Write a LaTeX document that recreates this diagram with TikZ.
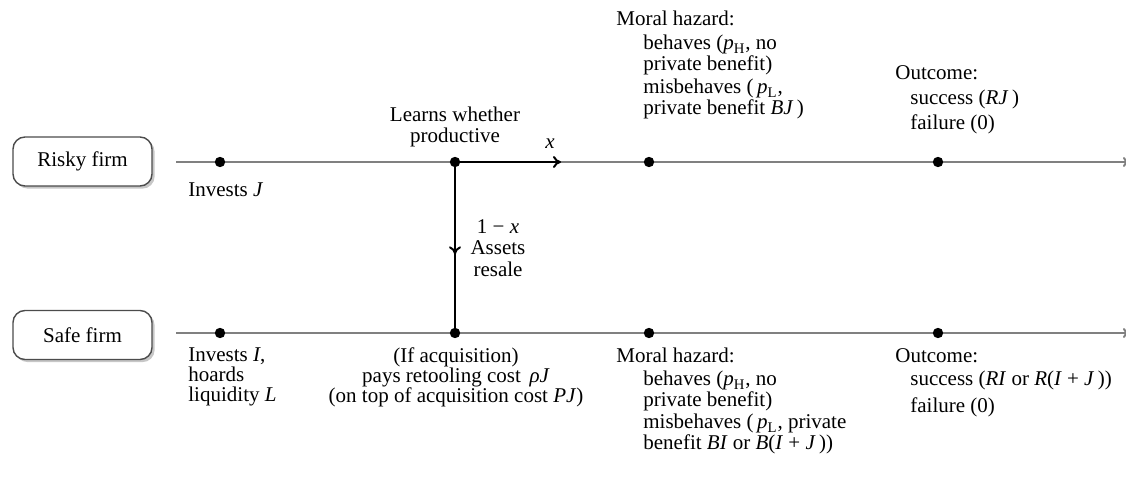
\documentclass[tikz,border=0pt]{standalone}
\usepackage{fontspec}
\setmainfont{Liberation Serif}
\usetikzlibrary{arrows.meta,decorations.markings,shadows}

% fixed line spacing for stacked labels
\newcommand{\labelfont}[1]{\fontsize{10.5}{#1}\selectfont\lineskiplimit=-20pt\relax}

\tikzset{
  firm/.style={draw=black!70, line width=0.7pt, rounded corners=6pt, fill=white,
    minimum width=69.5pt, minimum height=24.5pt,
    drop shadow={shadow xshift=1.3pt, shadow yshift=-1.3pt, fill=black!22, opacity=1}},
  timeline/.style={draw=black!50, line width=1pt},
  event/.style={circle, fill=black, inner sep=0pt, minimum size=5.2pt},
  flow/.style={draw=black, line width=1pt},
  lbl/.style={inner sep=0pt, font=\labelfont{10.2}},
}

\begin{document}
\begin{tikzpicture}[x=0.5pt, y=-0.5pt]
\useasboundingbox (0,0) rectangle (1126,481);

% Firm boxes
\node[firm, lbl] (risky) at (82.5,161.5) {Risky firm};
\node[firm, lbl] (safe) at (82.5,335) {Safe firm};

% Timelines
\coordinate (rstart) at (176,162);
\coordinate (rend) at (1129,162);
\coordinate (sstart) at (176,333);
\coordinate (send) at (1129,333);
\draw[timeline, -{To[length=3pt,width=5pt]}] (rstart) -- (rend);
\draw[timeline, -{To[length=3pt,width=5pt]}] (sstart) -- (send);

% Dates on the risky firm timeline
\node[event] (r1) at (220,162) {};
\node[event] (r2) at (455,162) {};
\node[event] (r3) at (649,162) {};
\node[event] (r4) at (938,162) {};

% Dates on the safe firm timeline
\node[event] (s1) at (220,333) {};
\node[event] (s2) at (455,333) {};
\node[event] (s3) at (649,333) {};
\node[event] (s4) at (938,333) {};

% Continuation (x) and resale (1-x)
\coordinate (xend) at (561,162);
\draw[flow, -{To[length=4pt,width=6pt]}] (r2.center) -- (xend);
\node[lbl, anchor=base] (xlbl) at (550,149) {\textit{x}};
\draw[flow, decoration={markings, mark=at position 0.54 with {\arrow{To[length=4pt,width=6pt]}}},
  postaction={decorate}] (r2.center) -- (s2.center);
\node[lbl, align=center, anchor=north, font=\labelfont{10.7}] (resale) at (498,219) {1 − \textit{x}\\Assets\\resale};

% Risky firm labels
\node[lbl, anchor=base west] (invJ) at (188,197) {Invests \textit{J}};
\node[lbl, align=center, anchor=north] (learn) at (455,107) {Learns whether\\productive};
\node[lbl, anchor=base west] (mh1) at (616,26) {Moral hazard:};
\node[lbl, align=left, anchor=north west] (mh1a) at (643,35) {behaves (\textit{p}\textsubscript{H}, no\\private benefit)};
\node[lbl, align=left, anchor=north west] (mh1b) at (643,79) {misbehaves (\,\textit{p}\textsubscript{L},\\private benefit \textit{BJ}\,)};
\node[lbl, anchor=base west] (oc1) at (895,80) {Outcome:};
\node[lbl, anchor=base west] (oc1a) at (910,105) {success (\textit{RJ}\,)};
\node[lbl, anchor=base west] (oc1b) at (910,130) {failure (0)};

% Safe firm labels
\node[lbl, align=left, anchor=north west] (invI) at (188,347) {Invests \textit{I},\\hoards\\liquidity \textit{L}};
\node[lbl, align=center, anchor=north] (acq) at (456,347) {(If acquisition)\\pays retooling cost \,\textit{ρJ}\\(on top of acquisition cost \textit{PJ})};
\node[lbl, anchor=base west] (mh2) at (616,363) {Moral hazard:};
\node[lbl, align=left, anchor=north west] (mh2a) at (643,371) {behaves (\textit{p}\textsubscript{H}, no\\private benefit)};
\node[lbl, align=left, anchor=north west] (mh2b) at (643,414) {misbehaves (\,\textit{p}\textsubscript{L}, private\\benefit \textit{BI} or \textit{B}(\textit{I} + \textit{J}\,))};
\node[lbl, anchor=base west] (oc2) at (895,363) {Outcome:};
\node[lbl, anchor=base west] (oc2a) at (910,386) {success (\textit{RI} or \textit{R}(\textit{I} + \textit{J}\,))};
\node[lbl, anchor=base west] (oc2b) at (910,412) {failure (0)};
\end{tikzpicture}
\end{document}
